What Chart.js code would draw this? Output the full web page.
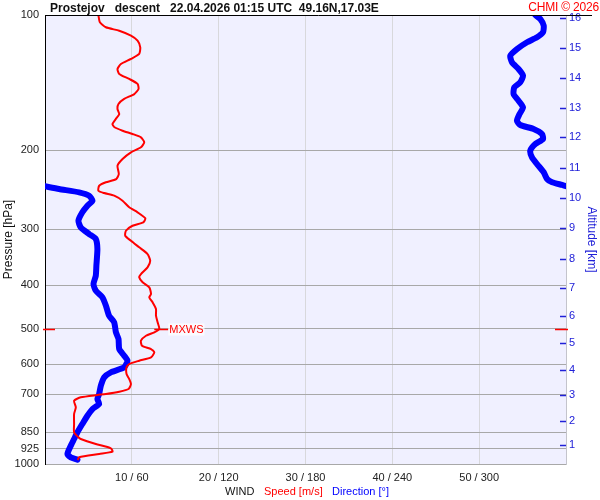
<!DOCTYPE html>
<html>
<head>
<meta charset="utf-8">
<script src="https://cdn.jsdelivr.net/npm/chart.js@4/dist/chart.umd.min.js"></script>
<style>
body { margin: 0; background: #fff; font-family: "Liberation Sans", Arial, sans-serif; }
#wrap { position: relative; width: 600px; height: 500px; }
.t { position: absolute; white-space: pre; font-size: 12px; line-height: 14px; }
</style>
</head>
<body>
<div id="wrap">
  <canvas id="chart" width="600" height="500"></canvas>
  <div class="t" style="left:50px;top:1px;font-weight:bold;color:#111">Prostejov   descent   22.04.2026 01:15 UTC  49.16N,17.03E</div>
  <div class="t" style="right:1px;top:0px;color:#ff0000;letter-spacing:-0.2px">CHMI © 2026</div>
  <div class="t" style="left:225px;top:484px;font-size:11px;color:#111">WIND</div>
  <div class="t" style="left:264px;top:484px;font-size:11px;color:#ff0000">Speed [m/s]</div>
  <div class="t" style="left:332px;top:484px;font-size:11px;color:#0000ff">Direction [°]</div>
</div>
<script>
// DATA
const speedPressure = [100, 103.8, 106.5, 108.4, 111.2, 114.1, 118.0, 122.1, 125.3, 128.6, 131.9, 135.3, 138.8, 142.4, 146.2, 150.0, 153.8, 157.8, 162.0, 166.2, 170.4, 174.9, 177.6, 181.0, 184.1, 187.3, 192.1, 197.1, 202.2, 209.3, 216.6, 226.0, 232.0, 235.8, 240.0, 246.2, 249.2, 252.6, 259.2, 268.1, 275.1, 283.7, 289.6, 294.7, 302.3, 310.2, 318.3, 329.2, 340.7, 352.6, 364.7, 377.5, 383.9, 393.9, 404.1, 418.2, 425.4, 436.5, 451.7, 467.5, 483.6, 500, 509, 518, 531.4, 545.2, 554.5, 563.9, 578.6, 588.8, 598.9, 609.1, 630.5, 646.8, 663.6, 680.8, 690.2, 698.4, 702, 710.4, 722.8, 747.7, 773.8, 814.5, 850, 872, 879.7, 902.6, 922.6, 938.8, 950, 966.3, 979.7];
const speedValues = [6.15, 6.32, 7.01, 8.55, 9.90, 10.66, 10.97, 10.85, 9.90, 8.74, 8.35, 8.55, 9.70, 10.66, 10.77, 10.28, 9.12, 8.46, 8.35, 8.55, 8.16, 7.77, 7.97, 8.93, 10.08, 11.05, 11.43, 11.05, 9.90, 8.93, 8.35, 8.5, 8.2, 7.01, 6.24, 6.15, 6.81, 7.97, 8.93, 9.70, 10.66, 11.55, 11.32, 10.08, 9.32, 9.24, 9.90, 10.85, 11.81, 12.12, 11.81, 11.05, 10.85, 11.24, 12.01, 12.21, 12.01, 12.39, 12.78, 12.78, 12.97, 13.16, 12.59, 11.63, 11.05, 11.17, 12.21, 12.59, 12.21, 10.85, 9.70, 9.39, 9.39, 9.70, 9.90, 9.62, 8.55, 7.01, 6.04, 4.12, 3.35, 3.55, 3.35, 3.35, 3.35, 3.85, 4.12, 5.85, 7.59, 7.77, 6.24, 3.93, 3.75];

const dirUpperPressure = [100, 102.1, 105.6, 109.3, 112.1, 115.0, 119.1, 123.2, 127.5, 131.9, 136.5, 141.2, 144.9, 150, 155.2, 160.6, 166.2, 172.0, 175.8, 179.4, 184.1, 188.9, 193.8, 200.6, 207.5, 214.8, 224.0, 231.9, 235.8, 239.1, 240.5];
const dirUpperValues = [338.8, 342.3, 344.6, 344.1, 340.0, 333.1, 326.1, 321.5, 322.7, 327.2, 330.3, 328.4, 324.3, 323.8, 327.2, 330.3, 327.9, 326.1, 328.4, 337.6, 343.4, 344.1, 338.8, 335.3, 336.5, 340.0, 344.6, 346.9, 350.4, 357.3, 360];

const dirLowerPressure = [240.7, 244.1, 248.3, 252.6, 259.2, 265.9, 275.1, 287.2, 297.1, 307.5, 315.4, 332.0, 361.7, 380.7, 397.3, 411.1, 425.4, 444.1, 467.5, 483.6, 509, 526.8, 554.5, 573.8, 588.8, 609.1, 624.9, 641.2, 669.3, 698.4, 716.6, 735.3, 754.3, 780.6, 814.5, 850, 879.7, 910.6, 950, 966.3, 978.1];
const dirLowerValues = [0, 9.7, 23.6, 30.5, 32.8, 29.3, 25.8, 23.1, 24.7, 30.5, 35.1, 36.2, 35.5, 35.1, 33.5, 35.1, 39.7, 42.1, 44.3, 47.8, 49.0, 50.8, 51.3, 54.7, 57.0, 54.7, 45.5, 40.9, 38.6, 37.4, 36.2, 37.4, 32.8, 29.3, 25.8, 22.4, 20.1, 17.8, 15.5, 17.8, 22.4];

const pressureTicks = [100, 200, 300, 400, 500, 600, 700, 850, 925, 1000];
const speedTicks = [0, 10, 20, 30, 40, 50, 60];
const speedTickLabels = ["", "10 / 60", "20 / 120", "30 / 180", "40 / 240", "50 / 300", ""];
const altitudeKm = [1, 2, 3, 4, 5, 6, 7, 8, 9, 10, 11, 12, 13, 14, 15, 16];
const altitudePressure = [907, 802, 702, 617, 538, 469, 405, 349, 298.5, 255.7, 218.8, 187, 161, 138.4, 118.6, 101.5];

const mxwsPressure = 500;
const mxwsSpeed = 13.16;

// COLORS
const RED = "#ff0000";
const BLUE = "#0000ff";
const ALT_BLUE = "#2020d8";

function toPoints(xs, ys) {
    return ys.map((p, i) => ({ x: xs[i], y: p }));
}

// plot background, top border, altitude tick marks, MXWS marker
const decorPlugin = {
    id: "decor",
    beforeDraw(chart) {
        const { ctx, chartArea: a } = chart;
        ctx.save();
        ctx.fillStyle = "#f0f0ff";
        ctx.fillRect(a.left, a.top, a.right - a.left, a.bottom - a.top);
        ctx.restore();
    },
    afterDraw(chart) {
        const { ctx, chartArea: a, scales } = chart;
        ctx.save();

        // top black line
        ctx.strokeStyle = "#000";
        ctx.lineWidth = 1;
        ctx.beginPath();
        ctx.moveTo(a.left, a.top + 0.5);
        ctx.lineTo(592, a.top + 0.5);
        ctx.stroke();

        // altitude tick marks (inside plot)
        ctx.strokeStyle = ALT_BLUE;
        ctx.lineWidth = 1.5;
        scales.yAlt.ticks.forEach(t => {
            const y = Math.round(scales.yAlt.getPixelForValue(t.value)) + 0.5;
            ctx.beginPath();
            ctx.moveTo(a.right - 6, y);
            ctx.lineTo(a.right, y);
            ctx.stroke();
        });

        // MXWS
        const my = Math.round(scales.y.getPixelForValue(mxwsPressure)) + 0.5;
        const mx = scales.x.getPixelForValue(mxwsSpeed);
        ctx.strokeStyle = RED;
        ctx.lineWidth = 1.5;
        ctx.beginPath();
        ctx.moveTo(a.left - 2, my); ctx.lineTo(a.left + 10, my);
        ctx.moveTo(mx - 5, my); ctx.lineTo(mx + 9, my);
        ctx.moveTo(a.right - 11, my); ctx.lineTo(a.right + 2, my);
        ctx.stroke();

        ctx.font = "11px 'Liberation Sans', Arial, sans-serif";
        const w = ctx.measureText("MXWS").width;
        ctx.fillStyle = "rgba(255,255,255,0.75)";
        ctx.fillRect(mx + 9, my - 6, w + 2, 12);
        ctx.fillStyle = RED;
        ctx.textBaseline = "middle";
        ctx.fillText("MXWS", mx + 10, my);
        ctx.restore();
    }
};

const chart = new Chart(document.getElementById("chart"), {
    type: "scatter",
    data: {
        datasets: [
            {
                label: "Speed",
                data: toPoints(speedValues, speedPressure),
                xAxisID: "x",
                yAxisID: "y",
                showLine: true,
                borderColor: RED,
                borderWidth: 2,
                pointRadius: 0,
                tension: 0.2
            },
            {
                label: "Direction",
                data: toPoints(dirUpperValues, dirUpperPressure),
                xAxisID: "xDir",
                yAxisID: "y",
                showLine: true,
                borderColor: BLUE,
                borderWidth: 6,
                borderCapStyle: "round",
                borderJoinStyle: "round",
                pointRadius: 0,
                tension: 0.2
            },
            {
                label: "Direction low",
                data: toPoints(dirLowerValues, dirLowerPressure),
                xAxisID: "xDir",
                yAxisID: "y",
                showLine: true,
                borderColor: BLUE,
                borderWidth: 6,
                borderCapStyle: "round",
                borderJoinStyle: "round",
                pointRadius: 0,
                tension: 0.2
            }
        ]
    },
    options: {
        responsive: false,
        animation: false,
        events: [],
        layout: { padding: { top: 15, left: 0, right: 0, bottom: 0 } },
        plugins: {
            legend: { display: false },
            tooltip: { enabled: false }
        },
        scales: {
            x: {
                type: "linear",
                min: 0,
                max: 60,
                afterBuildTicks: s => { s.ticks = speedTicks.map(v => ({ value: v })); },
                afterFit: s => { s.height = 36; },
                ticks: {
                    autoSkip: false,
                    maxRotation: 0,
                    padding: 7,
                    color: "#222",
                    font: { size: 11 },
                    callback: (v, i) => speedTickLabels[i]
                },
                grid: {
                    drawTicks: false,
                    color: c => (c.tick && c.tick.value === 0) ? "transparent"
                        : (c.tick && c.tick.value === 60) ? "#c4c4cc" : "#d8d8dc"
                },
                border: { display: false }
            },
            xDir: {
                type: "linear",
                min: 0,
                max: 360,
                display: false
            },
            y: {
                type: "logarithmic",
                position: "left",
                reverse: true,
                min: 100,
                max: 1000,
                afterBuildTicks: s => { s.ticks = pressureTicks.map(v => ({ value: v })); },
                afterFit: s => { s.width = 45; },
                ticks: {
                    autoSkip: false,
                    padding: 6,
                    color: "#222",
                    font: { size: 11 },
                    callback: v => String(v)
                },
                grid: {
                    drawTicks: false,
                    color: c => (c.tick && c.tick.value === 100) ? "transparent" : "#a8a8a8"
                },
                border: { color: "#000" },
                title: {
                    display: true,
                    text: "Pressure [hPa]",
                    color: "#111",
                    font: { size: 12 },
                    padding: { top: 1, bottom: 0 }
                }
            },
            yAlt: {
                type: "logarithmic",
                position: "right",
                reverse: true,
                min: 100,
                max: 1000,
                afterBuildTicks: s => { s.ticks = altitudePressure.map(v => ({ value: v })); },
                afterFit: s => { s.width = 34; },
                ticks: {
                    autoSkip: false,
                    padding: 3,
                    color: ALT_BLUE,
                    font: { size: 11 },
                    callback: (v, i) => String(altitudeKm[i])
                },
                grid: { drawOnChartArea: false, drawTicks: false },
                border: { color: "#c4c4cc" },
                title: {
                    display: true,
                    text: "Altitude [km]",
                    color: ALT_BLUE,
                    font: { size: 12 },
                    padding: { top: 1, bottom: 0 }
                }
            }
        }
    },
    plugins: [decorPlugin]
});
</script>
</body>
</html>
